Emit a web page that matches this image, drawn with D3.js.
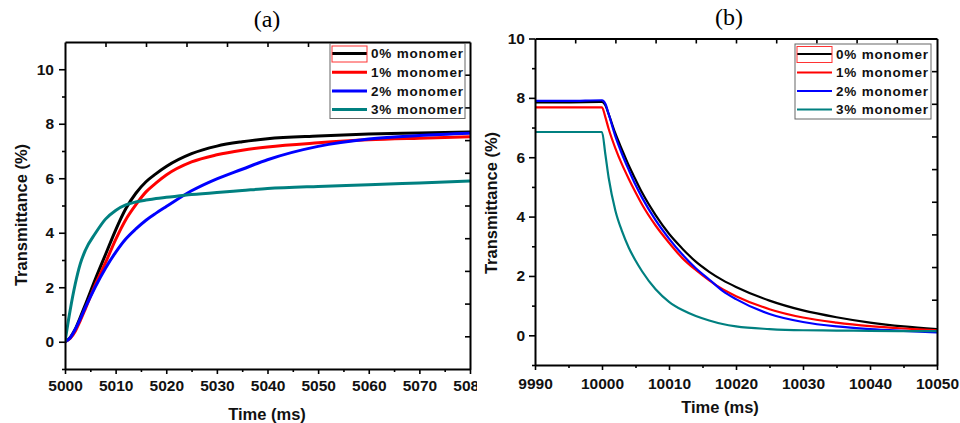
<!DOCTYPE html>
<html>
<head>
<meta charset="utf-8">
<script src="https://cdn.jsdelivr.net/npm/d3@7"></script>
<style>
  body { margin: 0; background: #fff; }
  svg { display: block; }
  .tick text { font-family: "Liberation Sans", Arial, sans-serif; font-weight: bold; font-size: 15.5px; fill: #111; }
  .lbl { font-family: "Liberation Sans", Arial, sans-serif; font-weight: bold; fill: #111; }
</style>
</head>
<body>
<svg id="chart" width="960" height="423"></svg>
<script>
var seriesNames = ["0% monomer", "1% monomer", "2% monomer", "3% monomer"];
var seriesColors = ["#000000", "#ff0000", "#0000ff", "#008080"];

// (a) switch-on, transmittance rising
var timeA = [5000, 5001, 5002, 5003, 5004, 5006, 5008, 5010, 5012, 5014, 5016, 5018, 5020, 5025, 5030, 5035, 5040, 5050, 5060, 5070, 5080];
var riseA0 = [0, 0.15, 0.45, 0.89, 1.35, 2.3, 3.2, 4.1, 4.88, 5.45, 5.87, 6.17, 6.43, 6.9, 7.18, 7.34, 7.45, 7.55, 7.62, 7.66, 7.7];
var riseA1 = [0, 0.12, 0.38, 0.77, 1.2, 2.1, 2.9, 3.75, 4.48, 5.03, 5.5, 5.83, 6.12, 6.6, 6.86, 7.03, 7.15, 7.3, 7.41, 7.47, 7.52];
var riseA2 = [0, 0.14, 0.45, 0.83, 1.25, 2.02, 2.7, 3.28, 3.77, 4.14, 4.46, 4.72, 4.96, 5.54, 5.98, 6.33, 6.68, 7.17, 7.44, 7.57, 7.65];
var riseA3 = [0, 1.14, 2.1, 2.85, 3.35, 3.98, 4.5, 4.82, 5.02, 5.13, 5.2, 5.26, 5.3, 5.4, 5.48, 5.55, 5.62, 5.7, 5.76, 5.83, 5.9];

// (b) switch-off, transmittance decaying
var timeB = [9990, 9995, 10000, 10000.5, 10001, 10002, 10003, 10004, 10005, 10006, 10008, 10010, 10012, 10014, 10016, 10018, 10020, 10025, 10030, 10035, 10040, 10045, 10050];
var decayB0 = [7.85, 7.85, 7.86, 7.75, 7.45, 6.8, 6.25, 5.72, 5.25, 4.8, 4.05, 3.42, 2.92, 2.48, 2.14, 1.86, 1.63, 1.17, 0.84, 0.61, 0.43, 0.3, 0.21];
var decayB1 = [7.68, 7.68, 7.68, 7.35, 6.95, 6.3, 5.75, 5.27, 4.82, 4.4, 3.7, 3.12, 2.6, 2.2, 1.85, 1.55, 1.32, 0.88, 0.6, 0.43, 0.31, 0.23, 0.17];
var decayB2 = [7.9, 7.9, 7.92, 7.8, 7.45, 6.7, 6.1, 5.57, 5.07, 4.63, 3.88, 3.26, 2.72, 2.26, 1.88, 1.5, 1.22, 0.72, 0.45, 0.3, 0.21, 0.15, 0.1];
var decayB3 = [6.85, 6.85, 6.85, 6.1, 5.3, 4.2, 3.5, 2.95, 2.52, 2.15, 1.55, 1.13, 0.85, 0.65, 0.5, 0.38, 0.3, 0.21, 0.17, 0.16, 0.15, 0.14, 0.14];

// tick values
var xTicksA = [5000, 5010, 5020, 5030, 5040, 5050, 5060, 5070, 5080];
var xMinorA = [5005, 5015, 5025, 5035, 5045, 5055, 5065, 5075];
var yTicksA = [0, 2, 4, 6, 8, 10];
var yMinorA = [-1, 1, 3, 5, 7, 9];
var topTicksA = [5008, 5016, 5024, 5032, 5040, 5048, 5056, 5064, 5072];
var rightTicksA = [0.2, 1.4, 2.6, 3.8, 5.0, 6.2, 7.4, 8.6, 9.8];

var xTicksB = [9990, 10000, 10010, 10020, 10030, 10040, 10050];
var xMinorB = [9995, 10005, 10015, 10025, 10035, 10045];
var yTicksB = [0, 2, 4, 6, 8, 10];
var yMinorB = [-1, 1, 3, 5, 7, 9];
var topTicksB = [9996, 10002, 10008, 10014, 10020, 10026, 10032, 10038, 10044];
var rightTicksB = [1.2, 2.3, 3.4, 4.5, 5.6, 6.7, 7.8, 8.9];

var svg = d3.select("#chart");

function drawPanel(p) {
  var g = svg.append("g");
  if (p.clipW) {
    svg.append("clipPath").attr("id", p.id + "-clip")
      .append("rect").attr("x", 0).attr("y", 0).attr("width", p.clipW).attr("height", 423);
    g.attr("clip-path", "url(#" + p.id + "-clip)");
  }

  var x = d3.scaleLinear().domain(p.xDomain).range([p.left, p.right]),
      y = d3.scaleLinear().domain(p.yDomain).range([p.bottom, p.top]);

  // data lines
  svg.append("clipPath").attr("id", p.id + "-plot")
    .append("rect").attr("x", p.left).attr("y", p.top)
    .attr("width", p.right - p.left).attr("height", p.bottom - p.top);

  var line = d3.line()
    .x(function(d) { return x(d[0]); })
    .y(function(d) { return y(d[1]); })
    .curve(d3.curveMonotoneX);

  g.append("g").attr("clip-path", "url(#" + p.id + "-plot)")
    .selectAll("path")
    .data(p.series)
    .enter()
    .append("path")
      .attr("d", function(s) { return line(d3.zip(p.time, s)); })
      .attr("fill", "none")
      .attr("stroke", function(s, i) { return seriesColors[i]; })
      .attr("stroke-width", p.lineW)
      .attr("stroke-linejoin", "round");

  // minor ticks (outward)
  g.append("g").attr("transform", "translate(0," + p.bottom + ")")
    .call(d3.axisBottom(x).tickValues(p.xMinor).tickSize(3).tickFormat(""))
    .call(function(a) { a.select(".domain").remove(); });
  g.append("g").attr("transform", "translate(" + p.left + ",0)")
    .call(d3.axisLeft(y).tickValues(p.yMinor).tickSize(3).tickFormat(""))
    .call(function(a) { a.select(".domain").remove(); });

  // mirror axes, inward ticks, no labels
  g.append("g").attr("transform", "translate(0," + p.top + ")")
    .call(d3.axisTop(x).tickValues(p.topTicks).tickSize(-5).tickSizeOuter(0).tickFormat(""));
  g.append("g").attr("transform", "translate(" + p.right + ",0)")
    .call(d3.axisRight(y).tickValues(p.rightTicks).tickSize(-5).tickSizeOuter(0).tickFormat(""));

  // main axes
  g.append("g").attr("transform", "translate(0," + p.bottom + ")")
    .call(d3.axisBottom(x).tickValues(p.xTicks).tickSize(5).tickSizeOuter(0)
      .tickPadding(p.xPad).tickFormat(d3.format("d")));
  g.append("g").attr("transform", "translate(" + p.left + ",0)")
    .call(d3.axisLeft(y).tickValues(p.yTicks).tickSize(6).tickSizeOuter(0)
      .tickPadding(p.yPad).tickFormat(d3.format("d")));

  g.selectAll(".domain").attr("stroke", "#000").attr("stroke-width", 2);
  g.selectAll(".tick line").attr("stroke", "#000").attr("stroke-width", 1.6);

  // axis titles
  g.append("text").attr("class", "lbl")
    .attr("x", p.xTitle[0]).attr("y", p.xTitle[1])
    .attr("text-anchor", "middle").style("font-size", "16.5px")
    .text("Time (ms)");
  g.append("text").attr("class", "lbl")
    .attr("transform", "translate(" + p.yTitle[0] + "," + p.yTitle[1] + ") rotate(-90)")
    .attr("text-anchor", "middle").style("font-size", "16.5px")
    .text("Transmittance (%)");

  // panel letter
  g.append("text")
    .attr("x", p.letterPos[0]).attr("y", p.letterPos[1])
    .attr("text-anchor", "middle")
    .style("font-family", "'Liberation Serif', 'Times New Roman', serif")
    .style("font-size", "24px")
    .text(p.letter);

  // legend
  var L = p.legend;
  var leg = g.append("g");
  leg.append("rect")
    .attr("x", L.x).attr("y", L.y).attr("width", L.w).attr("height", L.h)
    .attr("fill", "#fff").attr("stroke", "#666").attr("stroke-width", 1);
  var rows = leg.selectAll("g.row")
    .data(seriesNames)
    .enter()
    .append("g")
      .attr("class", "row")
      .attr("transform", function(d, i) { return "translate(0," + (L.y + L.row0 + i * L.step) + ")"; });
  rows.append("line")
    .attr("x1", L.x + 2).attr("x2", L.x + 2 + L.lineLen)
    .attr("stroke", function(d, i) { return seriesColors[i]; })
    .attr("stroke-width", p.lineW);
  rows.append("text").attr("class", "lbl")
    .attr("x", L.x + L.lineLen + 6).attr("dy", "0.36em")
    .style("font-size", "13.5px").style("letter-spacing", "0.8px")
    .text(function(d) { return d; });
  leg.append("rect")
    .attr("x", L.x + 2).attr("y", L.y + 2.5).attr("width", L.lineLen).attr("height", 16)
    .attr("fill", "none").attr("stroke", "#f33").attr("stroke-width", 1);
}

drawPanel({
  id: "pa", letter: "(a)", letterPos: [267, 27], clipW: 477,
  left: 65, right: 470, top: 42, bottom: 369,
  xDomain: [5000, 5080], yDomain: [-1, 11],
  time: timeA, series: [riseA0, riseA1, riseA2, riseA3], lineW: 3,
  xTicks: xTicksA, xMinor: xMinorA, yTicks: yTicksA, yMinor: yMinorA,
  topTicks: topTicksA, rightTicks: rightTicksA,
  xPad: 6, yPad: 5,
  xTitle: [267, 420], yTitle: [27, 215],
  legend: { x: 330, y: 43.5, w: 135, h: 75, row0: 10, step: 18.7, lineLen: 35 }
});

drawPanel({
  id: "pb", letter: "(b)", letterPos: [729, 25],
  left: 535, right: 937, top: 38.5, bottom: 365,
  xDomain: [9990, 10050], yDomain: [-1, 10],
  time: timeB, series: [decayB0, decayB1, decayB2, decayB3], lineW: 2.2,
  xTicks: xTicksB, xMinor: xMinorB, yTicks: yTicksB, yMinor: yMinorB,
  topTicks: topTicksB, rightTicks: rightTicksB,
  xPad: 8, yPad: 4,
  xTitle: [720, 413], yTitle: [497, 203],
  legend: { x: 795, y: 44, w: 136, h: 75, row0: 10, step: 18.5, lineLen: 35 }
});
</script>
</body>
</html>
